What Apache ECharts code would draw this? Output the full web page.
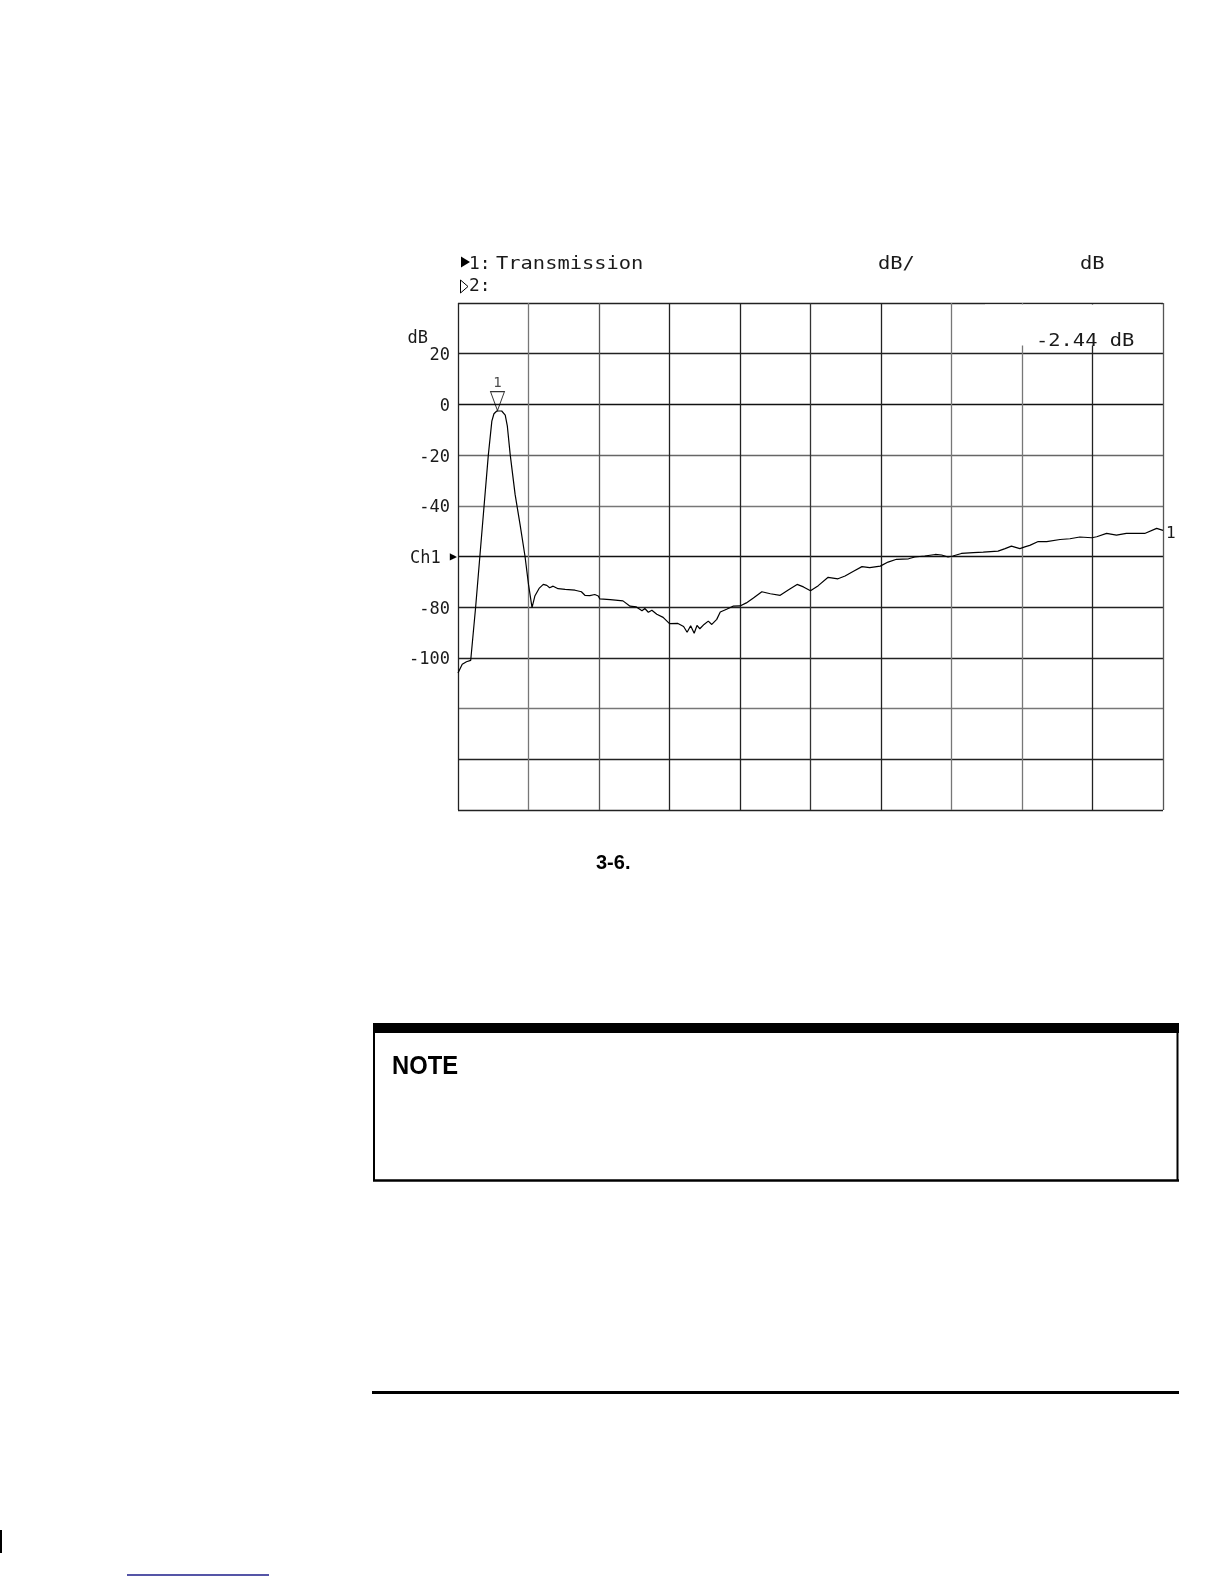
<!DOCTYPE html>
<html>
<head>
<meta charset="utf-8">
<script src="https://cdn.jsdelivr.net/npm/echarts@6/dist/echarts.min.js"></script>
<style>
html,body{margin:0;padding:0;background:#fff;}
#chart{width:1224px;height:1584px;}
</style>
</head>
<body>
<div id="chart"></div>
<script>
// ---- data (x in screen divisions of the sweep, y in dB) ----
const freqDiv = [0.00,0.06,0.12,0.18,0.25,0.31,0.37,0.43,0.48,0.51,0.55,0.62,0.67,0.70,0.74,0.81,0.88,0.95,1.00,1.05,1.09,1.15,1.21,1.26,1.30,1.35,1.42,1.52,1.66,1.75,1.80,1.87,1.94,1.99,2.01,2.16,2.34,2.44,2.53,2.61,2.65,2.70,2.75,2.82,2.91,3.00,3.12,3.20,3.25,3.30,3.35,3.39,3.43,3.49,3.55,3.60,3.67,3.72,3.81,3.90,4.00,4.09,4.19,4.31,4.43,4.57,4.69,4.81,4.90,5.00,5.11,5.25,5.39,5.49,5.61,5.73,5.84,5.99,6.10,6.22,6.39,6.48,6.62,6.77,6.86,6.95,7.02,7.14,7.31,7.45,7.66,7.76,7.85,7.97,8.04,8.11,8.23,8.35,8.54,8.68,8.82,8.99,9.06,9.20,9.34,9.48,9.74,9.91,10.00];
const transmissionDb = [-106,-102.5,-101.5,-101,-80,-60,-40,-20,-6.6,-3.7,-2.6,-2.6,-4.2,-8.6,-19.7,-35.5,-47.3,-59.8,-71,-80.2,-75.6,-72.6,-71,-71.4,-72.3,-71.7,-72.7,-73,-73.3,-73.9,-75.3,-75.4,-75,-75.6,-76.7,-77,-77.5,-79.6,-79.9,-81.4,-80.5,-82,-81.2,-82.8,-84,-86.5,-86.4,-87.6,-89.9,-87.3,-90.3,-87.2,-88.5,-86.8,-85.5,-86.8,-84.8,-81.9,-80.8,-79.6,-79.5,-78.3,-76.4,-73.9,-74.7,-75.3,-73.1,-71,-72,-73.5,-71.5,-68.2,-68.8,-67.7,-65.8,-64,-64.4,-63.8,-62.2,-61.1,-60.9,-60.2,-59.8,-59.2,-59.4,-60.2,-59.8,-58.8,-58.5,-58.3,-57.9,-56.9,-55.9,-56.9,-56.2,-55.6,-54.1,-54.1,-53.3,-53,-52.3,-52.6,-52.2,-50.9,-51.6,-50.9,-50.9,-48.9,-49.7];
const markerX = [0.56];
const markerDb = [-2.44];
const yTickLabels = [20, 0, -20, -40, -80, -100];
const refLevel = -60;
const headerTexts = ['1:', 'Transmission', '2:', 'dB/', 'dB'];
const markerReadout = '-2.44 dB';
const captionText = '3-6.';
const noteText = 'NOTE';

const MONO = '"DejaVu Sans Mono", "Liberation Mono", monospace';
const NARROW = '"Liberation Sans Narrow", "Liberation Sans", Arial, sans-serif';
const ink = '#1a1a1a';

const chart = echarts.init(document.getElementById('chart'), null, {renderer: 'canvas'});

function hText(x, y, t, sx) {
  return {
    type: 'text', x: x, y: y, scaleX: sx || 1.2, z: 20,
    style: {text: t, font: '17px ' + MONO, fill: ink, textVerticalAlign: 'middle', textAlign: 'left'}
  };
}

const option = {
  animation: false,
  backgroundColor: '#fff',
  grid: {left: 458, top: 303, right: 61, bottom: 774, show: false},
  xAxis: {
    type: 'value', min: 0, max: 10, interval: 1,
    axisLine: {show: false}, axisTick: {show: false}, axisLabel: {show: false},
    splitLine: {show: true, lineStyle: {width: 1.3, color: ['#222','#777','#555','#222','#222','#333','#222','#777','#777','#222','#555']}}
  },
  yAxis: {
    type: 'value', min: -160, max: 40, interval: 20,
    name: 'dB', nameLocation: 'end', nameGap: -44,
    nameTextStyle: {fontFamily: MONO, fontSize: 17, color: ink, align: 'right', padding: [0, 30, 0, 0]},
    axisLine: {show: false}, axisTick: {show: false},
    splitLine: {show: true, lineStyle: {width: 1.3, color: ['#222','#222','#777','#222','#222','#111','#777','#666','#111','#222','#222']}},
    axisLabel: {
      margin: 1,
      fontFamily: MONO, fontSize: 17, color: ink,
      formatter: function (v) {
        if (v === refLevel) return '{c|Ch1}{a|▶}';
        if (yTickLabels.indexOf(v) >= 0) return '{n|' + v + '}';
        return '';
      },
      rich: {
        n: {fontFamily: MONO, fontSize: 17, color: ink, padding: [4, 7, 0, 0]},
        c: {fontFamily: MONO, fontSize: 17, color: ink, padding: [4, 0, 0, 0]},
        a: {fontFamily: MONO, fontSize: 12, color: '#000', padding: [0, 0, 0, 9]}
      }
    }
  },
  series: [
    {
      type: 'line', name: 'Transmission',
      data: freqDiv.map((x, i) => [x, transmissionDb[i]]),
      showSymbol: false, symbol: 'none', smooth: false,
      lineStyle: {color: '#000', width: 1.2},
      endLabel: {show: true, formatter: '1', distance: 3, fontFamily: MONO, fontSize: 16, color: ink, offset: [0, 3]},
      z: 3
    },
    {
      type: 'scatter', name: 'Marker 1',
      data: markerX.map((x, i) => [x, markerDb[i]]),
      symbol: 'path://M0,0L14,0L7,19Z', symbolSize: [14, 19], symbolOffset: [0, '-50%'],
      itemStyle: {color: 'rgba(255,255,255,0)', borderColor: '#000', borderWidth: 1},
      label: {show: true, position: 'top', formatter: '1', distance: 1, fontFamily: MONO, fontSize: 14, color: ink},
      z: 4
    }
  ],
  graphic: [
    // header
    {type: 'polygon', z: 20, shape: {points: [[461, 256.5], [470, 262], [461, 267.5]]}, style: {fill: '#000'}},
    hText(469, 264.5, headerTexts[0], 1.05),
    hText(496, 264.5, headerTexts[1]),
    {type: 'polygon', z: 20, shape: {points: [[460.5, 280], [468, 286.5], [460.5, 293]]}, style: {fill: 'none', stroke: '#000', lineWidth: 1}},
    hText(469, 287, headerTexts[2], 1.05),
    hText(878, 265, headerTexts[3]),
    hText(1080, 265, headerTexts[4]),
    // marker readout box
    {type: 'rect', z: 15, shape: {x: 985, y: 304.5, width: 176, height: 41}, style: {fill: '#fff'}},
    hText(1036, 342, markerReadout),
    // caption
    {type: 'text', z: 20, x: 596, y: 863, style: {text: captionText, font: 'bold 20px ' + NARROW, fill: '#000', textVerticalAlign: 'middle'}},
    // NOTE box
    {type: 'rect', z: 20, shape: {x: 373, y: 1023, width: 806, height: 10}, style: {fill: '#000'}},
    {type: 'line', z: 20, shape: {x1: 374, y1: 1023, x2: 374, y2: 1181}, style: {stroke: '#000', lineWidth: 2}},
    {type: 'line', z: 20, shape: {x1: 1177.5, y1: 1023, x2: 1177.5, y2: 1181}, style: {stroke: '#000', lineWidth: 2}},
    {type: 'line', z: 20, shape: {x1: 373, y1: 1180.5, x2: 1179, y2: 1180.5}, style: {stroke: '#000', lineWidth: 2.5}},
    {type: 'text', z: 20, x: 392, y: 1067, scaleX: 0.95, style: {text: noteText, font: 'bold 25px ' + NARROW, fill: '#000', textVerticalAlign: 'middle'}},
    // separator line
    {type: 'line', z: 20, shape: {x1: 372, y1: 1392.5, x2: 1179, y2: 1392.5}, style: {stroke: '#000', lineWidth: 3}},
    // page marks
    {type: 'rect', z: 20, shape: {x: 0, y: 1530, width: 2, height: 23}, style: {fill: '#000'}},
    {type: 'line', z: 20, shape: {x1: 127, y1: 1575, x2: 269, y2: 1575}, style: {stroke: '#1c1c8a', lineWidth: 1.5}}
  ]
};
chart.setOption(option);
</script>
</body>
</html>
